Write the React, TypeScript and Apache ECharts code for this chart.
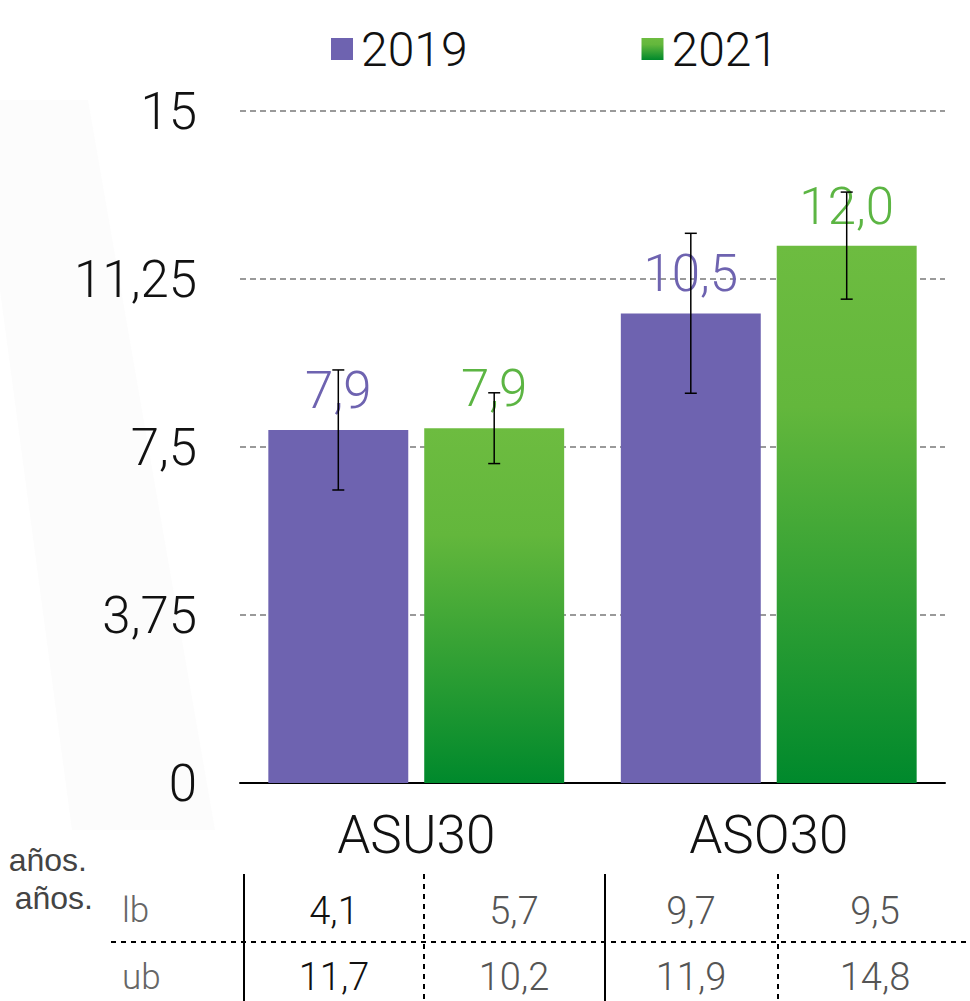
import React, { useEffect, useRef } from "react";
import * as echarts from "echarts";

const categories = ["ASU30", "ASO30"];
const seriesNames = ["2019", "2021"];
const values2019 = [7.88, 10.48];
const values2021 = [7.92, 11.99];
const errLow2019 = [6.54, 8.7];
const errHigh2019 = [9.22, 12.27];
const errLow2021 = [7.13, 10.8];
const errHigh2021 = [8.71, 13.19];
const yTicks = [0, 3.75, 7.5, 11.25, 15];
const tableRowLabels = ["lb", "ub"];
const lbValues = ["4,1", "5,7", "9,7", "9,5"];
const ubValues = ["11,7", "10,2", "11,9", "14,8"];
const sideNotes = ["años.", "años."];

const FONT = "Roboto, 'Liberation Sans', Arial, sans-serif";
const NOTE_FONT = "'Liberation Sans', Arial, sans-serif";
const FW = 300;
const PURPLE = "#6E63B0";
const GREEN_LABEL = "#5CB543";
const BAR_W = 0.397; // fraction of band
const BAR_GAP = 0.114; // fraction of bar width

const fmt = (v: number) => v.toFixed(1).replace(".", ",");

function errorSeries(name: string, lows: number[], highs: number[], side: number) {
  return {
    type: "custom",
    name: name + "-err",
    z: 10,
    silent: true,
    data: lows.map((lo, i) => [i, lo, highs[i]]),
    encode: { x: 0, y: [1, 2] },
    renderItem: (params: any, api: any) => {
      const idx = api.value(0);
      const band = api.size([1, 0])[0];
      const bw = band * BAR_W;
      const off = side * (bw + bw * BAR_GAP) / 2;
      const lo = api.coord([idx, api.value(1)]);
      const hi = api.coord([idx, api.value(2)]);
      const x = lo[0] + off;
      const cap = 6;
      const st = { stroke: "#000", lineWidth: 1.5 };
      return {
        type: "group",
        children: [
          { type: "line", shape: { x1: x, y1: hi[1], x2: x, y2: lo[1] }, style: st },
          { type: "line", shape: { x1: x - cap, y1: hi[1], x2: x + cap, y2: hi[1] }, style: st },
          { type: "line", shape: { x1: x - cap, y1: lo[1], x2: x + cap, y2: lo[1] }, style: st },
        ],
      };
    },
  };
}

export default function App() {
  const ref = useRef<HTMLDivElement>(null);
  useEffect(() => {
    if (!ref.current) return;
    const chart = echarts.init(ref.current, null, { renderer: "svg" });

    const colX = [334, 514, 691, 875];
    const graphics: any[] = [
      {
        type: "polygon",
        z: -10,
        shape: { points: [[0, 100], [88, 100], [215, 830], [72, 830], [0, 290]] },
        style: { fill: "#fcfcfc" },
      },
      { type: "line", shape: { x1: 244, y1: 874, x2: 244, y2: 1001 }, style: { stroke: "#000", lineWidth: 2 } },
      { type: "line", shape: { x1: 605, y1: 874, x2: 605, y2: 1001 }, style: { stroke: "#000", lineWidth: 2 } },
      { type: "line", shape: { x1: 424, y1: 874, x2: 424, y2: 1001 }, style: { stroke: "#000", lineWidth: 2, lineDash: [5, 5] } },
      { type: "line", shape: { x1: 778, y1: 874, x2: 778, y2: 1001 }, style: { stroke: "#000", lineWidth: 2, lineDash: [5, 5] } },
      { type: "line", shape: { x1: 111, y1: 942, x2: 970, y2: 942 }, style: { stroke: "#000", lineWidth: 2, lineDash: [5, 5] } },
      {
        type: "text", x: 87, y: 860,
        style: { text: sideNotes[0], fontSize: 32, fontFamily: NOTE_FONT, fill: "#444", align: "right", verticalAlign: "middle" },
      },
      {
        type: "text", x: 93, y: 898,
        style: { text: sideNotes[1], fontSize: 32, fontFamily: NOTE_FONT, fill: "#444", align: "right", verticalAlign: "middle" },
      },
    ];
    tableRowLabels.forEach((t, r) => {
      graphics.push({
        type: "text", x: 122, y: r === 0 ? 910 : 977,
        style: { text: t, fontSize: 35, fontFamily: FONT, fontWeight: FW, fill: "#666", align: "left", verticalAlign: "middle" },
      });
    });
    [lbValues, ubValues].forEach((row, r) => {
      row.forEach((t, c) => {
        graphics.push({
          type: "text", x: colX[c], y: r === 0 ? 911 : 977,
          style: {
            text: t, fontSize: 38, fontFamily: FONT, fontWeight: FW,
            fill: c === 0 ? "#111" : "#555", align: "center", verticalAlign: "middle",
          },
        });
      });
    });

    const greenGrad = new echarts.graphic.LinearGradient(0, 0, 0, 1, [
      { offset: 0, color: "#6DBC40" },
      { offset: 0.3, color: "#63B73C" },
      { offset: 1, color: "#00892C" },
    ]);

    chart.setOption({
      animation: false,
      backgroundColor: "#fff",
      textStyle: { fontFamily: FONT, fontWeight: FW },
      legend: {
        data: seriesNames,
        left: 326,
        top: 20,
        itemWidth: 22,
        itemHeight: 22,
        itemGap: 174,
        icon: "rect",
        textStyle: { fontSize: 48, color: "#111", fontFamily: FONT, fontWeight: FW, padding: [0, 0, 0, 3] },
      },
      grid: { left: 240, right: 25, top: 111, bottom: 218 },
      xAxis: {
        type: "category",
        data: categories,
        axisLine: { lineStyle: { color: "#000", width: 2 } },
        axisTick: { show: false },
        axisLabel: { fontSize: 53, color: "#111", margin: 25, fontFamily: FONT, fontWeight: FW },
      },
      yAxis: {
        type: "value",
        min: yTicks[0],
        max: yTicks[yTicks.length - 1],
        interval: 3.75,
        axisLine: { show: false },
        axisTick: { show: false },
        axisLabel: {
          fontSize: 51, color: "#111", margin: 43, fontFamily: FONT, fontWeight: FW,
          formatter: (v: number) => String(v).replace(".", ","),
        },
        splitLine: { lineStyle: { color: "#9a9a9a", width: 2, type: [6, 4] } },
      },
      series: [
        {
          name: seriesNames[0],
          type: "bar",
          data: values2019,
          barWidth: (BAR_W * 100).toFixed(1) + "%",
          barGap: (BAR_GAP * 100).toFixed(1) + "%",
          itemStyle: { color: PURPLE },
          label: {
            show: true, position: "top", distance: 14,
            fontSize: 51, color: PURPLE, fontFamily: FONT, fontWeight: FW,
            formatter: (p: any) => fmt(p.value),
          },
        },
        {
          name: seriesNames[1],
          type: "bar",
          data: values2021,
          barWidth: (BAR_W * 100).toFixed(1) + "%",
          barGap: (BAR_GAP * 100).toFixed(1) + "%",
          itemStyle: { color: greenGrad },
          label: {
            show: true, position: "top", distance: 14,
            fontSize: 51, color: GREEN_LABEL, fontFamily: FONT, fontWeight: FW,
            formatter: (p: any) => fmt(p.value),
          },
        },
        errorSeries(seriesNames[0], errLow2019, errHigh2019, -1),
        errorSeries(seriesNames[1], errLow2021, errHigh2021, 1),
      ],
      graphic: graphics,
    });
    return () => chart.dispose();
  }, []);

  return (
    <div
      ref={ref}
      style={{ position: "absolute", left: 0, top: 0, width: 970, height: 1001 }}
    />
  );
}
